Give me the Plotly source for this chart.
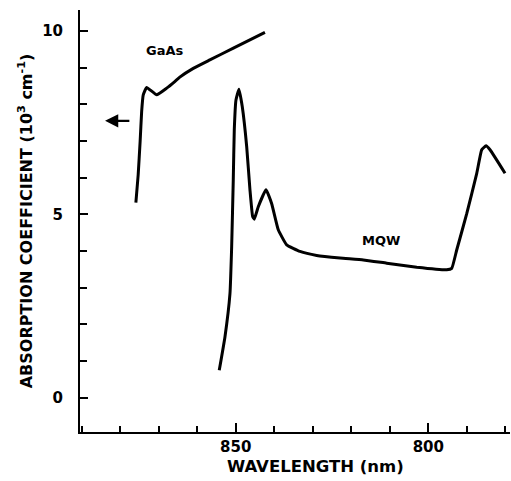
import plotly.graph_objects as go

# ---- data ----
gaas_wl = [875.9, 875.3, 874.8, 874.4, 874.0, 873.1, 870.5, 867.9, 865.8, 864.5, 861.0, 856.7, 850.6, 842.4]
gaas_abs = [5.32, 6.08, 6.98, 7.80, 8.25, 8.46, 8.26, 8.44, 8.62, 8.74, 8.98, 9.21, 9.53, 9.96]

mqw_wl = [854.26, 852.78, 851.48, 851.04, 850.62, 850.36, 849.92, 849.14, 848.29, 847.14, 846.29,
          845.59, 845.17, 844.13, 842.13, 840.65, 838.94, 836.76, 833.31, 828.97, 822.92, 816.87,
          810.80, 803.01, 795.22, 793.92, 792.63, 790.03, 787.43, 786.14, 785.02, 783.98, 780.09]
mqw_abs = [0.75, 1.66, 2.84, 4.12, 5.94, 7.30, 8.12, 8.41, 7.94, 6.85, 5.67,
           4.94, 4.87, 5.21, 5.67, 5.29, 4.58, 4.17, 3.99, 3.88, 3.81, 3.76,
           3.67, 3.56, 3.49, 3.53, 4.03, 5.02, 6.12, 6.76, 6.87, 6.76, 6.12]

x_ticks = [850, 800]
y_ticks = [0, 5, 10]
x_range = [890.4, 778.8]
y_range = [-0.93, 10.57]

label_gaas = ("GaAs", 868.4, 9.48)
label_mqw = ("MQW", 812.3, 4.28)
arrow_head = (883.9, 7.55)
arrow_tail = (877.2, 7.55)

FONT = "DejaVu Sans"

fig = go.Figure()
fig.add_trace(go.Scatter(x=gaas_wl, y=gaas_abs, mode="lines",
                         line=dict(color="black", width=3, shape="spline", smoothing=0.35),
                         showlegend=False, hoverinfo="skip"))
fig.add_trace(go.Scatter(x=mqw_wl, y=mqw_abs, mode="lines",
                         line=dict(color="black", width=3, shape="spline", smoothing=0.35),
                         showlegend=False, hoverinfo="skip"))

for txt, xx, yy in (label_gaas, label_mqw):
    fig.add_annotation(x=xx, y=yy, text=txt, showarrow=False,
                       font=dict(family=FONT, size=13, color="black", weight="bold"))

fig.add_annotation(x=arrow_head[0], y=arrow_head[1], ax=arrow_tail[0], ay=arrow_tail[1],
                   axref="x", ayref="y", xref="x", yref="y", text="", showarrow=True,
                   arrowhead=2, arrowsize=1.2, arrowwidth=2.2, arrowcolor="black")

# x-axis title (placed slightly right of centre, as in the reference)
fig.add_annotation(x=0.547, y=0, xref="paper", yref="paper", yshift=-34, yanchor="middle",
                   text="WAVELENGTH (nm)", showarrow=False,
                   font=dict(family=FONT, size=16.5, color="black", weight="bold"))

fig.update_layout(
    width=511, height=481,
    margin=dict(l=80, r=1, t=10, b=49),
    paper_bgcolor="white", plot_bgcolor="white",
    font=dict(family=FONT, color="black"),
)
fig.update_xaxes(range=x_range, tickvals=x_ticks, ticktext=[str(v) for v in x_ticks],
                 ticks="inside", ticklen=9, tickwidth=2, tickcolor="black",
                 minor=dict(ticks="inside", dtick=10, tick0=800, ticklen=6, tickwidth=1.5, tickcolor="black"),
                 showline=True, linecolor="black", linewidth=2, showgrid=False, zeroline=False,
                 tickfont=dict(family=FONT, size=15, weight="bold"))
fig.update_yaxes(range=y_range, tickvals=y_ticks, ticktext=[str(v) for v in y_ticks],
                 ticks="inside", ticklen=8, tickwidth=1.5, tickcolor="black",
                 minor=dict(ticks="inside", dtick=1, tick0=0, ticklen=7, tickwidth=1.5, tickcolor="black"),
                 showline=True, linecolor="black", linewidth=2, showgrid=False, zeroline=False,
                 ticklabelstandoff=12,
                 tickfont=dict(family=FONT, size=15, weight="bold"),
                 title=dict(text="ABSORPTION COEFFICIENT (10<sup>3</sup> cm<sup>-1</sup>)",
                            font=dict(family=FONT, size=16, weight="bold"), standoff=6))

fig.write_html("out.html")
